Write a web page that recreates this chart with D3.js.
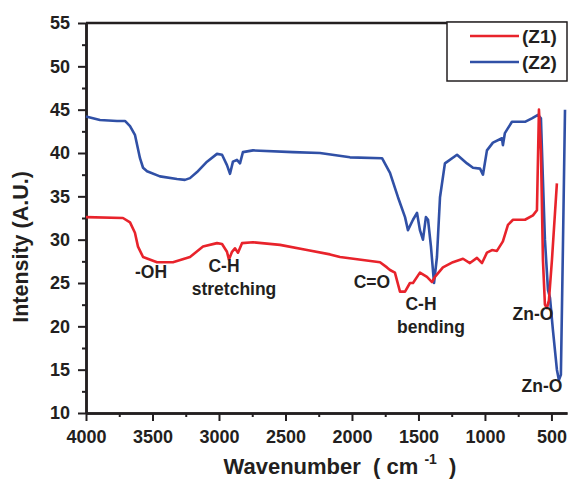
<!DOCTYPE html>
<html>
<head>
<meta charset="utf-8">
<script src="https://cdn.jsdelivr.net/npm/d3@7"></script>
<style>
  body { margin: 0; background: #fff; }
  svg text { font-family: "Liberation Sans", Arial, sans-serif; font-weight: bold; fill: #231f20; }
</style>
</head>
<body>
<div id="chart"></div>
<script>
// FTIR spectra
const z1Wave = [4000, 3722, 3669, 3632, 3609, 3571, 3466, 3346, 3218, 3120, 3015, 2977, 2940, 2925, 2902, 2880, 2857, 2827, 2744, 2541, 2338, 2165, 2090, 1789, 1737, 1714, 1677, 1639, 1601, 1564, 1541, 1489, 1436, 1398, 1376, 1316, 1241, 1165, 1113, 1060, 1022, 985, 947, 910, 865, 827, 789, 737, 699, 639, 609, 594, 579, 564, 549, 534, 519, 496, 459];
const z1Int  = [32.6, 32.5, 32.0, 30.8, 29.2, 28.0, 27.4, 27.4, 28.0, 29.2, 29.6, 29.5, 28.6, 27.7, 28.6, 29.0, 28.5, 29.6, 29.7, 29.4, 28.8, 28.3, 28.0, 27.4, 26.8, 26.5, 26.2, 24.0, 24.0, 25.0, 25.0, 26.2, 25.7, 25.1, 25.7, 26.8, 27.4, 27.8, 27.3, 27.9, 27.3, 28.5, 28.8, 28.7, 29.8, 31.7, 32.3, 32.3, 32.3, 32.8, 33.4, 45.0, 40.3, 27.7, 22.5, 22.1, 23.0, 27.7, 36.5];

const z2Wave = [4000, 3895, 3767, 3707, 3669, 3632, 3594, 3571, 3541, 3444, 3316, 3256, 3218, 3165, 3090, 3015, 2977, 2940, 2917, 2895, 2865, 2842, 2820, 2744, 2444, 2241, 2015, 1774, 1714, 1654, 1601, 1579, 1541, 1511, 1489, 1466, 1444, 1428, 1406, 1383, 1361, 1338, 1301, 1210, 1135, 1090, 1037, 1015, 985, 940, 872, 865, 850, 797, 759, 699, 647, 601, 579, 564, 549, 526, 511, 489, 459, 444, 429, 414, 398];
const z2Int  = [44.2, 43.8, 43.7, 43.7, 43.1, 42.1, 39.4, 38.3, 37.9, 37.3, 37.0, 36.9, 37.1, 37.8, 39.0, 39.9, 39.8, 38.6, 37.6, 39.0, 39.2, 38.8, 40.1, 40.3, 40.1, 40.0, 39.5, 39.4, 37.7, 34.9, 32.6, 31.1, 32.3, 33.1, 31.1, 30.0, 32.6, 32.3, 29.2, 25.0, 28.0, 34.9, 38.8, 39.8, 38.8, 38.3, 38.2, 37.5, 40.3, 41.2, 41.7, 40.9, 42.3, 43.6, 43.6, 43.6, 44.0, 44.4, 44.0, 36.9, 30.0, 24.2, 23.3, 19.6, 15.0, 13.8, 14.4, 28.8, 45.0];

const seriesNames  = ["(Z1)", "(Z2)"];
const seriesColors = ["#e8232b", "#3050a6"];

const xMajor = [4000, 3500, 3000, 2500, 2000, 1500, 1000, 500];
const xMinor = [3750, 3250, 2750, 2250, 1750, 1250, 750];
const yMajor = [10, 15, 20, 25, 30, 35, 40, 45, 50, 55];
const yMinor = [12.5, 17.5, 22.5, 27.5, 32.5, 37.5, 42.5, 47.5, 52.5];

// peak annotations: wavenumber / intensity where the label text sits
const notes = [
    {lines: ["-OH"], w: 3511, v: 25.6},
    {lines: ["C-H", "stretching"], w: 2962, v: 26.3},
    {lines: ["C=O"], w: 1850, v: 24.4},
    {lines: ["C-H", "bending"], w: 1481, v: 21.9},
    {lines: ["Zn-O"], w: 639, v: 20.7},
    {lines: ["Zn-O"], w: 571, v: 12.4}
];

const W = 569, H = 479;
const svg = d3.select("#chart").append("svg")
    .attr("width", W)
    .attr("height", H);

const x = d3.scaleLinear().domain([4000, 383]).range([86, 567]);
const y = d3.scaleLinear().domain([10, 55]).range([413, 23]);

// top frame line
svg.append("line")
    .attr("x1", x(4000)).attr("x2", x(383))
    .attr("y1", y(55)).attr("y2", y(55))
    .attr("stroke", "#231f20").attr("stroke-width", 2.5);

// axes
function styleAxis(g) {
    g.select(".domain").attr("stroke", "#231f20").attr("stroke-width", 2.5);
    g.selectAll(".tick line").attr("stroke", "#231f20").attr("stroke-width", 2);
    g.selectAll(".tick text").style("font-size", "18px");
}

svg.append("g")
    .attr("transform", "translate(0," + y(10) + ")")
    .call(d3.axisBottom(x).tickValues(xMinor).tickSize(4).tickSizeOuter(0).tickFormat(""))
    .call(styleAxis);
svg.append("g")
    .attr("transform", "translate(0," + y(10) + ")")
    .call(d3.axisBottom(x).tickValues(xMajor).tickSize(8).tickSizeOuter(0).tickPadding(9).tickFormat(d3.format("d")))
    .call(styleAxis);

svg.append("g")
    .attr("transform", "translate(" + x(4000) + ",0)")
    .call(d3.axisLeft(y).tickValues(yMinor).tickSize(4).tickSizeOuter(0).tickFormat(""))
    .call(styleAxis);
svg.append("g")
    .attr("transform", "translate(" + x(4000) + ",0)")
    .call(d3.axisLeft(y).tickValues(yMajor).tickSize(8).tickSizeOuter(0).tickPadding(8).tickFormat(d3.format("d")))
    .call(styleAxis);

// axis titles
svg.append("text")
    .attr("transform", "translate(28,247) rotate(-90)")
    .attr("text-anchor", "middle")
    .style("font-size", "21.5px")
    .text("Intensity (A.U.)");

const xt = svg.append("text")
    .attr("x", 340).attr("y", 474)
    .attr("text-anchor", "middle")
    .style("font-size", "22px")
    .attr("xml:space", "preserve");
xt.append("tspan").text("Wavenumber  ( cm ");
xt.append("tspan").attr("dy", -10).style("font-size", "14px").text("-1");
xt.append("tspan").attr("dy", 10).text("  )");

// curves
const line = d3.line()
    .x(d => x(d[0]))
    .y(d => y(d[1]));

const series = [
    d3.zip(z1Wave, z1Int),
    d3.zip(z2Wave, z2Int)
];

// draw blue under red like the original
[1, 0].forEach(i => {
    svg.append("path")
        .datum(series[i])
        .attr("d", line)
        .attr("fill", "none")
        .attr("stroke", seriesColors[i])
        .attr("stroke-width", 2.6)
        .attr("stroke-linejoin", "round");
});

// annotations
notes.forEach(n => {
    const t = svg.append("text")
        .attr("x", x(n.w)).attr("y", y(n.v))
        .attr("text-anchor", "middle")
        .style("font-size", "17.5px");
    n.lines.forEach((s, k) => {
        t.append("tspan")
            .attr("x", x(n.w))
            .attr("dx", k > 0 ? 10 : 0)
            .attr("dy", k > 0 ? 23 : 0)
            .text(s);
    });
});

// legend
const lg = svg.append("g");
lg.append("rect")
    .attr("x", 447).attr("y", 22)
    .attr("width", 120).attr("height", 59)
    .attr("fill", "#fff")
    .attr("stroke", "#231f20").attr("stroke-width", 1.5);
seriesNames.forEach((name, i) => {
    const ly = 36 + i * 26;
    lg.append("line")
        .attr("x1", 470).attr("x2", 519)
        .attr("y1", ly).attr("y2", ly)
        .attr("stroke", seriesColors[i]).attr("stroke-width", 2.6);
    lg.append("text")
        .attr("x", 522).attr("y", ly + 7)
        .style("font-size", "19px")
        .text(name);
});
</script>
</body>
</html>
